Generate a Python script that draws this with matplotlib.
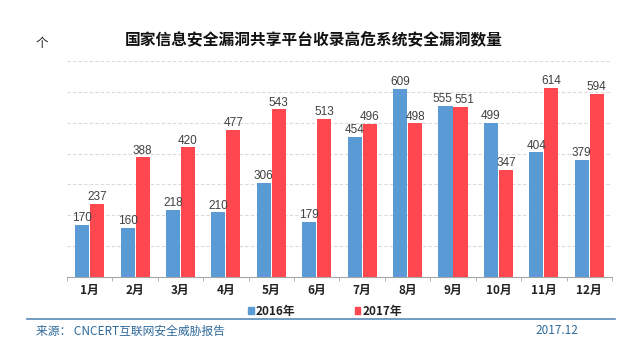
import matplotlib
matplotlib.use("Agg")
import matplotlib.pyplot as plt
from matplotlib.patches import Patch
import numpy as np

plt.rcParams['font.family'] = ['Noto Sans CJK SC', 'DejaVu Sans']

months = ['1月', '2月', '3月', '4月', '5月', '6月', '7月', '8月', '9月', '10月', '11月', '12月']
vals_2016 = [170, 160, 218, 210, 306, 179, 454, 609, 555, 499, 404, 379]
vals_2017 = [237, 388, 420, 477, 543, 513, 496, 498, 551, 347, 614, 594]
series_names = ['2016年', '2017年']

blue = '#5B9BD5'
red = '#FF474F'

fig = plt.figure(figsize=(6.3, 3.57), dpi=100)
ax = fig.add_axes([0.1063, 0.2241, 0.8651, 0.6049])

x = np.arange(len(months))
w = 0.31
b1 = ax.bar(x - 0.165, vals_2016, w, color=blue, zorder=3)
b2 = ax.bar(x + 0.165, vals_2017, w, color=red, zorder=3)

# labels of neighbouring bars with near equal heights get pushed apart a little
for bars, shift in ((b1, -2.5), (b2, 2.5)):
    for i, r in enumerate(bars):
        dx = shift if abs(vals_2016[i] - vals_2017[i]) < 30 else 0
        ax.annotate(f'{int(r.get_height())}', (r.get_x() + r.get_width() / 2, r.get_height()),
                    xytext=(dx, 0.5), textcoords='offset points', ha='center', va='bottom',
                    fontsize=8.5, color='#404040', family='Liberation Sans')

ax.set_xlim(-0.5, 11.5)
ax.set_ylim(0, 700)
ax.set_yticks(range(100, 701, 100))
ax.yaxis.grid(True, color='#DADADA', linestyle=(0, (3, 2)), linewidth=0.8, zorder=0)
ax.tick_params(axis='y', left=False, labelleft=False)
for s in ['top', 'right', 'left']:
    ax.spines[s].set_visible(False)
ax.spines['bottom'].set_color('#A6A6A6')

ax.set_xticks(x)
ax.set_xticklabels(months, fontsize=8.5, color='#222222', fontweight='bold')
ax.tick_params(axis='x', length=0, pad=5)
ax.set_xticks(np.arange(-0.5, 12, 1), minor=True)
ax.tick_params(axis='x', which='minor', length=3, color='#A6A6A6', direction='out')

fig.text(0.498, 1 - 39 / 357, '国家信息安全漏洞共享平台收录高危系统安全漏洞数量',
         ha='center', va='center', fontsize=11.3, fontweight='bold', color='#111111')
fig.text(42 / 630, 1 - 44 / 357, '个', ha='center', va='center', fontsize=9, color='#222222')

handles = [Patch(color=blue), Patch(color=red)]
fig.legend(handles, series_names, loc='center', bbox_to_anchor=(0.516, 1 - 311 / 357),
           ncol=2, frameon=False, handlelength=0.5, handleheight=0.5, handletextpad=0.2,
           columnspacing=5.0, prop={'size': 8.5, 'weight': 'bold'}, labelcolor='#222222')

fig.add_artist(plt.Line2D([27 / 630, 615 / 630], [1 - 319 / 357, 1 - 319 / 357],
                          color='#5A8AB8', linewidth=1.2))
fig.text(36 / 630, 1 - 331 / 357, '来源： CNCERT互联网安全威胁报告', ha='left', va='center',
         fontsize=8.5, color='#2F6A9A')
fig.text(557 / 630, 1 - 331 / 357, '2017.12', ha='center', va='center',
         fontsize=8.5, color='#2F6A9A')

fig.savefig('out.png', dpi=100)
